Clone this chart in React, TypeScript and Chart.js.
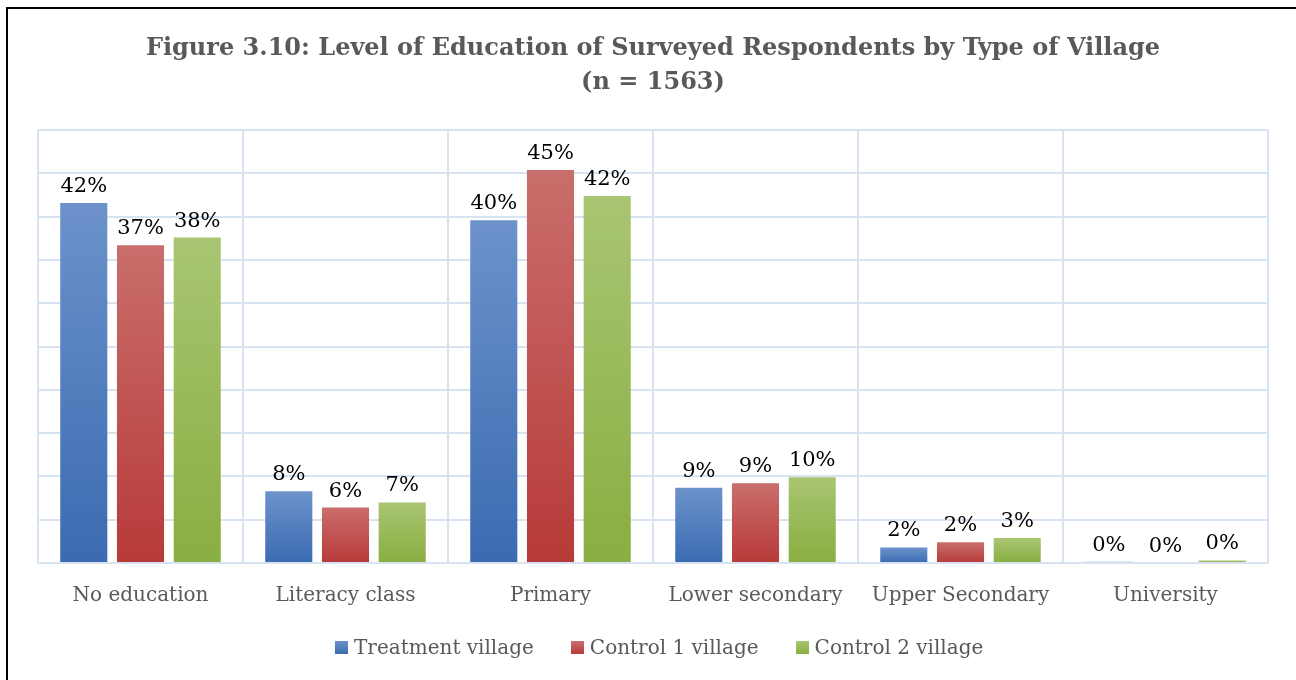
import React, { useEffect, useRef } from "react";
import { Chart, registerables } from "chart.js";

Chart.register(...registerables);

const categories = ["No education", "Literacy class", "Primary", "Lower secondary", "Upper Secondary", "University"];
const seriesNames = ["Treatment village", "Control 1 village", "Control 2 village"];
const treatment = [41.6, 8.3, 39.6, 8.7, 1.8, 0.15];
const control1 = [36.7, 6.4, 45.4, 9.2, 2.4, 0.0];
const control2 = [37.6, 7.0, 42.4, 9.9, 2.9, 0.3];
const titleLines = ["Figure 3.10: Level of Education of Surveyed Respondents by Type of Village", "(n = 1563)"];

const FONT = "'DejaVu Serif', serif";

const gradTop = ["#6d92cb", "#c96e6c", "#a9c572"];
const gradBottom = ["#3a6bb1", "#b73a38", "#89ae41"];
const solid = ["#4a7bbf", "#c0504d", "#9bbb59"];

function makeGrad(i: number) {
  return (ctx: any) => {
    const chart = ctx.chart;
    if (ctx.type !== "data" || !chart.chartArea || !chart.scales || !chart.scales.y) return solid[i];
    const v = ctx.raw as number;
    const y0 = chart.scales.y.getPixelForValue(v);
    const y1 = chart.scales.y.getPixelForValue(0);
    if (!isFinite(y0) || !isFinite(y1) || y1 - y0 < 1) return gradBottom[i];
    const g = chart.ctx.createLinearGradient(0, y0, 0, y1);
    g.addColorStop(0, gradTop[i]);
    g.addColorStop(1, gradBottom[i]);
    return g;
  };
}

const valueLabels = {
  id: "valueLabels",
  afterDatasetsDraw(chart: any) {
    const ctx = chart.ctx;
    ctx.save();
    ctx.font = `21px ${FONT}`;
    ctx.fillStyle = "#000000";
    ctx.textAlign = "center";
    ctx.textBaseline = "alphabetic";
    chart.data.datasets.forEach((ds: any, di: number) => {
      const meta = chart.getDatasetMeta(di);
      meta.data.forEach((bar: any, i: number) => {
        const v = ds.data[i] as number;
        ctx.fillText(`${Math.round(v)}%`, bar.x, bar.y - 11);
      });
    });
    ctx.restore();
  },
};

export default function App() {
  const ref = useRef<HTMLCanvasElement | null>(null);
  useEffect(() => {
    if (!ref.current) return;
    const data = [treatment, control1, control2];
    const chart = new Chart(ref.current, {
      type: "bar",
      data: {
        labels: categories,
        datasets: seriesNames.map((name, i) => ({
          label: name,
          data: data[i],
          backgroundColor: makeGrad(i),
          borderWidth: 0,
          categoryPercentage: 0.83,
          barPercentage: 0.83,
        })),
      },
      options: {
        responsive: false,
        animation: false,
        devicePixelRatio: 1,
        layout: { padding: { left: 38, right: 28, top: 0, bottom: 51 } },
        scales: {
          x: {
            grid: { display: true, color: "#d8e3f2", lineWidth: 2, drawTicks: false, offset: true },
            border: { display: true, color: "#d8e3f2", width: 2 },
            ticks: { color: "#595959", font: { family: FONT, size: 20 }, padding: 21 },
          },
          y: {
            min: 0,
            max: 50,
            ticks: { display: false, stepSize: 5 },
            grid: { color: "#d8e3f2", lineWidth: 2, drawTicks: false },
            border: { display: false },
          },
        },
        plugins: {
          title: {
            display: true,
            text: titleLines,
            color: "#595959",
            font: { family: FONT, size: 24, weight: "bold", lineHeight: 1.42 },
            padding: { top: 32, bottom: 30 },
          },
          legend: { display: false },
          tooltip: { enabled: false },
        },
      },
      plugins: [valueLabels],
    });
    return () => chart.destroy();
  }, []);
  return (
    <div style={{ position: "fixed", left: 0, top: 0, width: 1296, height: 680, background: "#ffffff", overflow: "hidden" }}>
      <canvas ref={ref} width={1296} height={680} style={{ position: "absolute", left: 0, top: 0, width: 1296, height: 680 }} />
      <div
        style={{
          position: "absolute",
          left: 335,
          top: 635,
          height: 24,
          display: "flex",
          alignItems: "center",
          whiteSpace: "nowrap",
          fontFamily: FONT,
          fontSize: 20,
          lineHeight: "24px",
          color: "#595959",
        }}
      >
        {seriesNames.map((name, i) => (
          <div key={name} style={{ display: "flex", alignItems: "center", marginRight: i < seriesNames.length - 1 ? 37 : 0 }}>
            <span
              style={{
                display: "inline-block",
                width: 13,
                height: 13,
                marginRight: 6,
                background: `linear-gradient(${gradTop[i]}, ${gradBottom[i]})`,
              }}
            />
            <span>{name}</span>
          </div>
        ))}
      </div>
      <div style={{ position: "absolute", left: 6, top: 7, width: 1400, height: 800, borderLeft: "2px solid #000", borderTop: "2px solid #000", pointerEvents: "none" }} />
    </div>
  );
}
